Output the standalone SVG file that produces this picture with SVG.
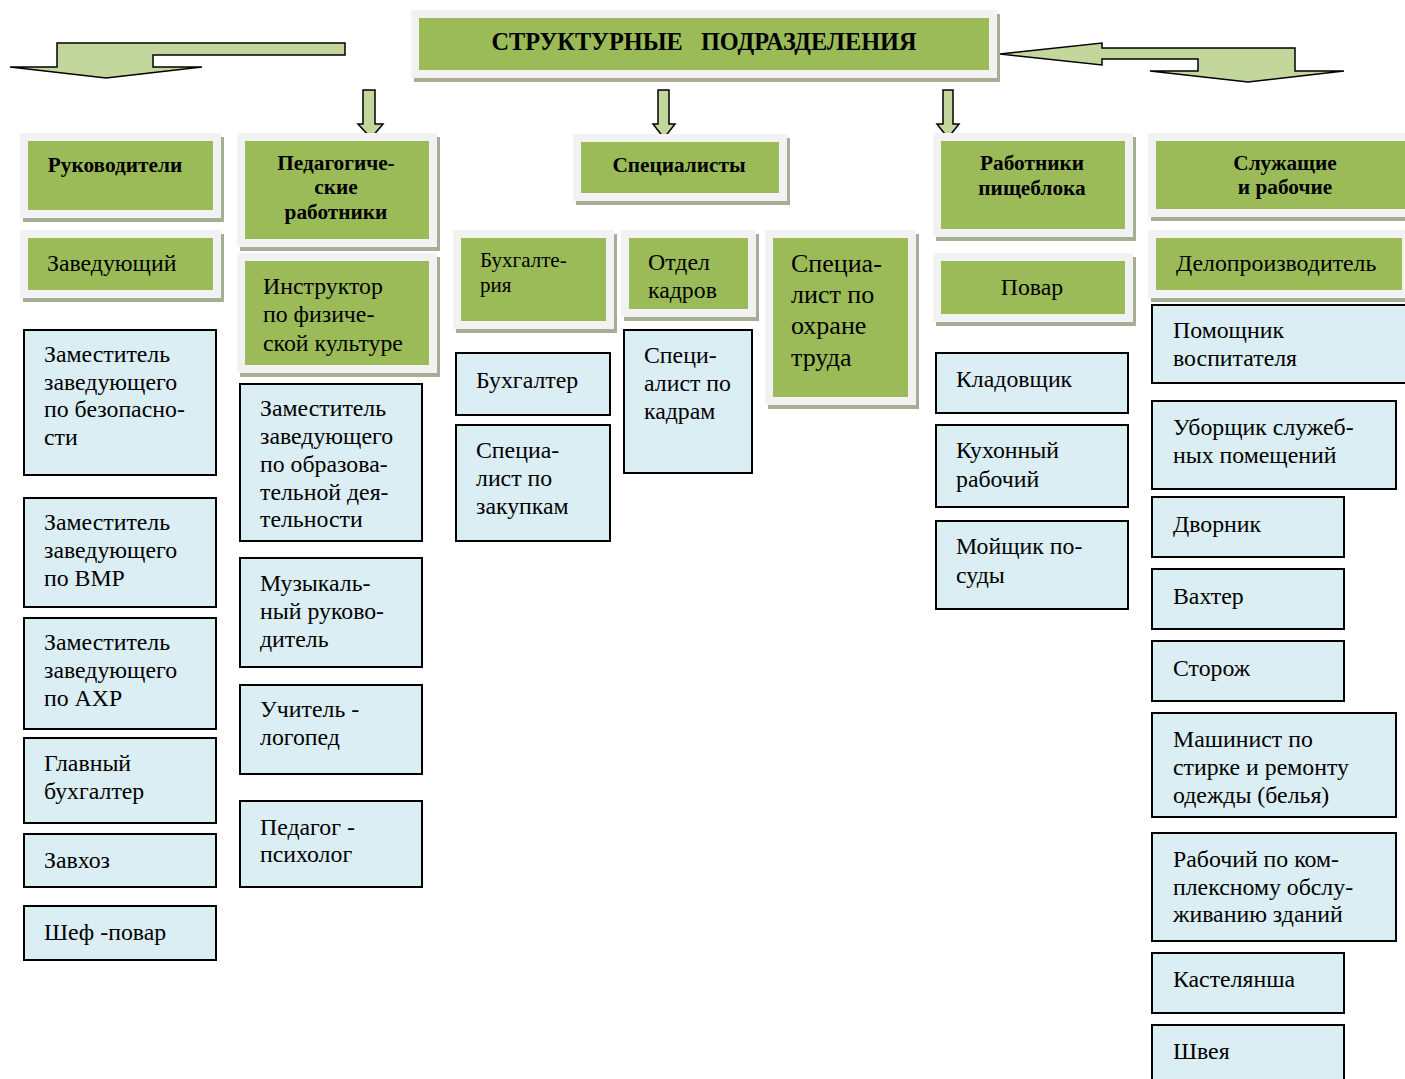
<svg xmlns="http://www.w3.org/2000/svg" width="1405" height="1079" viewBox="0 0 1405 1079">
<style>
.sh{fill:#a7ae95}
.fr{fill:#f2f2f2}
.gr{fill:#9bbb59}
.bl{fill:#daeef3;stroke:#000;stroke-width:2}
.arr{fill:#c3d69b;stroke:#000;stroke-width:1.5;stroke-linejoin:miter}
text{font-family:"Liberation Serif","Times New Roman",serif;fill:#000}
.t{font-size:23.8px}
.tb{font-size:21.3px;font-weight:bold;text-anchor:middle}
.tl{font-size:26px}
.ts{font-size:21px}
.title{font-size:24.3px;font-weight:bold;text-anchor:middle}
</style>
<rect width="1405" height="1079" fill="#fff"/>
<g id="connectors">
<polygon class="arr" points="57,43 345,43 345,55 153,55 153,67 202,67 106,78 10,67 57,67"/>
<polygon class="arr" points="1000,54 1102,43 1102,48 1295,48 1295,71 1344,71 1248,82 1150,71 1198,71 1198,59 1102,59 1102,65"/>
<polygon class="arr" points="363,90 375,90 375,124 383,124 371,138 358,124 363,124"/>
<polygon class="arr" points="658,90 669,90 669,124 675,124 664,138 653,124 658,124"/>
<polygon class="arr" points="943,90 953,90 953,124 959,124 948,138 937,124 943,124"/>
</g>
<g id="title">
<rect class="sh" x="414" y="14" width="586" height="68"/>
<rect class="fr" x="411" y="10" width="586" height="68"/>
<rect class="gr" x="419" y="18" width="570" height="52"/>
<text class="title" x="704" y="50" xml:space="preserve">СТРУКТУРНЫЕ   ПОДРАЗДЕЛЕНИЯ</text>
</g>
<g id="rukovoditeli">
<rect class="sh" x="23" y="137" width="201" height="85"/>
<rect class="fr" x="20" y="133" width="201" height="85"/>
<rect class="gr" x="28" y="141" width="185" height="69"/>
<text class="tb" x="115" y="172">Руководители</text>
</g>
<g id="zaveduyushchiy">
<rect class="sh" x="23" y="234" width="201" height="68"/>
<rect class="fr" x="20" y="230" width="201" height="68"/>
<rect class="gr" x="28" y="238" width="185" height="52"/>
<text class="t" x="47" y="271">Заведующий</text>
</g>
<g id="ped">
<rect class="sh" x="240" y="137" width="200" height="114"/>
<rect class="fr" x="237" y="133" width="200" height="114"/>
<rect class="gr" x="245" y="141" width="184" height="98"/>
<text class="tb" x="336" y="170">Педагогиче-</text>
<text class="tb" x="336" y="194">ские</text>
<text class="tb" x="336" y="219">работники</text>
</g>
<g id="instruktor">
<rect class="sh" x="240" y="257" width="200" height="120"/>
<rect class="fr" x="237" y="253" width="200" height="120"/>
<rect class="gr" x="245" y="261" width="184" height="104"/>
<text class="t" x="263" y="294">Инструктор</text>
<text class="t" x="263" y="322">по физиче-</text>
<text class="t" x="263" y="351">ской культуре</text>
</g>
<g id="spetsialisty">
<rect class="sh" x="576" y="138" width="214" height="67"/>
<rect class="fr" x="573" y="134" width="214" height="67"/>
<rect class="gr" x="581" y="142" width="198" height="51"/>
<text class="tb" x="679" y="172">Специалисты</text>
</g>
<g id="bukhgalteriya">
<rect class="sh" x="456" y="234" width="161" height="99"/>
<rect class="fr" x="453" y="230" width="161" height="99"/>
<rect class="gr" x="461" y="238" width="145" height="83"/>
<text class="ts" x="480" y="267">Бухгалте-</text>
<text class="ts" x="480" y="292">рия</text>
</g>
<g id="otdel-kadrov">
<rect class="sh" x="624" y="234" width="135" height="87"/>
<rect class="fr" x="621" y="230" width="135" height="87"/>
<rect class="gr" x="629" y="238" width="119" height="71"/>
<text class="t" x="648" y="270">Отдел</text>
<text class="t" x="648" y="298">кадров</text>
</g>
<g id="okhrana-truda">
<rect class="sh" x="768" y="234" width="151" height="175"/>
<rect class="fr" x="765" y="230" width="151" height="175"/>
<rect class="gr" x="773" y="238" width="135" height="159"/>
<text class="tl" x="791" y="272">Специа-</text>
<text class="tl" x="791" y="303">лист по</text>
<text class="tl" x="791" y="334">охране</text>
<text class="tl" x="791" y="366">труда</text>
</g>
<g id="pishcheblok">
<rect class="sh" x="936" y="137" width="200" height="104"/>
<rect class="fr" x="933" y="133" width="200" height="104"/>
<rect class="gr" x="941" y="141" width="184" height="88"/>
<text class="tb" x="1032" y="170">Работники</text>
<text class="tb" x="1032" y="195">пищеблока</text>
</g>
<g id="povar">
<rect class="sh" x="936" y="257" width="200" height="69"/>
<rect class="fr" x="933" y="253" width="200" height="69"/>
<rect class="gr" x="941" y="261" width="184" height="53"/>
<text class="t" x="1032" y="295" text-anchor="middle">Повар</text>
</g>
<g id="sluzhashchie">
<rect class="sh" x="1151" y="137" width="270" height="84"/>
<rect class="fr" x="1148" y="133" width="270" height="84"/>
<rect class="gr" x="1156" y="141" width="254" height="68"/>
<text class="tb" x="1285" y="170">Служащие</text>
<text class="tb" x="1285" y="194">и рабочие</text>
</g>
<g id="deloproizvoditel">
<rect class="sh" x="1151" y="234" width="262" height="68"/>
<rect class="fr" x="1148" y="230" width="262" height="68"/>
<rect class="gr" x="1156" y="238" width="246" height="52"/>
<text class="t" x="1176" y="271">Делопроизводитель</text>
</g>
<g id="zam-bezopasnost">
<rect class="bl" x="24" y="330" width="192" height="145"/>
<text class="t" x="44" y="362">Заместитель</text>
<text class="t" x="44" y="390">заведующего</text>
<text class="t" x="44" y="417">по безопасно-</text>
<text class="t" x="44" y="445">сти</text>
</g>
<g id="zam-vmr">
<rect class="bl" x="24" y="498" width="192" height="109"/>
<text class="t" x="44" y="530">Заместитель</text>
<text class="t" x="44" y="558">заведующего</text>
<text class="t" x="44" y="586">по ВМР</text>
</g>
<g id="zam-akhr">
<rect class="bl" x="24" y="618" width="192" height="111"/>
<text class="t" x="44" y="650">Заместитель</text>
<text class="t" x="44" y="678">заведующего</text>
<text class="t" x="44" y="706">по АХР</text>
</g>
<g id="glavbukh">
<rect class="bl" x="24" y="738" width="192" height="85"/>
<text class="t" x="44" y="771">Главный</text>
<text class="t" x="44" y="799">бухгалтер</text>
</g>
<g id="zavkhoz">
<rect class="bl" x="24" y="834" width="192" height="53"/>
<text class="t" x="44" y="868">Завхоз</text>
</g>
<g id="shef-povar">
<rect class="bl" x="24" y="906" width="192" height="54"/>
<text class="t" x="44" y="940">Шеф -повар</text>
</g>
<g id="zam-obrazovanie">
<rect class="bl" x="240" y="384" width="182" height="157"/>
<text class="t" x="260" y="416">Заместитель</text>
<text class="t" x="260" y="444">заведующего</text>
<text class="t" x="260" y="472">по образова-</text>
<text class="t" x="260" y="500">тельной дея-</text>
<text class="t" x="260" y="527">тельности</text>
</g>
<g id="muz-ruk">
<rect class="bl" x="240" y="558" width="182" height="109"/>
<text class="t" x="260" y="591">Музыкаль-</text>
<text class="t" x="260" y="619">ный руково-</text>
<text class="t" x="260" y="647">дитель</text>
</g>
<g id="logoped">
<rect class="bl" x="240" y="685" width="182" height="89"/>
<text class="t" x="260" y="717">Учитель -</text>
<text class="t" x="260" y="745">логопед</text>
</g>
<g id="psikholog">
<rect class="bl" x="240" y="801" width="182" height="86"/>
<text class="t" x="260" y="835">Педагог -</text>
<text class="t" x="260" y="862">психолог</text>
</g>
<g id="bukhgalter">
<rect class="bl" x="456" y="353" width="154" height="62"/>
<text class="t" x="476" y="388">Бухгалтер</text>
</g>
<g id="zakupki">
<rect class="bl" x="456" y="425" width="154" height="116"/>
<text class="t" x="476" y="458">Специа-</text>
<text class="t" x="476" y="486">лист по</text>
<text class="t" x="476" y="514">закупкам</text>
</g>
<g id="spets-kadry">
<rect class="bl" x="624" y="330" width="128" height="143"/>
<text class="t" x="644" y="363">Специ-</text>
<text class="t" x="644" y="391">алист по</text>
<text class="t" x="644" y="419">кадрам</text>
</g>
<g id="kladovshchik">
<rect class="bl" x="936" y="353" width="192" height="60"/>
<text class="t" x="956" y="387">Кладовщик</text>
</g>
<g id="kukhonny">
<rect class="bl" x="936" y="425" width="192" height="82"/>
<text class="t" x="956" y="458">Кухонный</text>
<text class="t" x="956" y="487">рабочий</text>
</g>
<g id="moyshchik">
<rect class="bl" x="936" y="521" width="192" height="88"/>
<text class="t" x="956" y="554">Мойщик по-</text>
<text class="t" x="956" y="583">суды</text>
</g>
<g id="pomoshchnik">
<rect class="bl" x="1152" y="305" width="262" height="78"/>
<text class="t" x="1173" y="338">Помощник</text>
<text class="t" x="1173" y="366">воспитателя</text>
</g>
<g id="uborshchik">
<rect class="bl" x="1152" y="401" width="244" height="88"/>
<text class="t" x="1173" y="435">Уборщик служеб-</text>
<text class="t" x="1173" y="463">ных помещений</text>
</g>
<g id="dvornik">
<rect class="bl" x="1152" y="497" width="192" height="60"/>
<text class="t" x="1173" y="532">Дворник</text>
</g>
<g id="vakhter">
<rect class="bl" x="1152" y="569" width="192" height="60"/>
<text class="t" x="1173" y="604">Вахтер</text>
</g>
<g id="storozh">
<rect class="bl" x="1152" y="641" width="192" height="60"/>
<text class="t" x="1173" y="676">Сторож</text>
</g>
<g id="mashinist">
<rect class="bl" x="1152" y="713" width="244" height="104"/>
<text class="t" x="1173" y="747">Машинист по</text>
<text class="t" x="1173" y="775">стирке и ремонту</text>
<text class="t" x="1173" y="803">одежды (белья)</text>
</g>
<g id="rabochiy-kompleks">
<rect class="bl" x="1152" y="833" width="244" height="108"/>
<text class="t" x="1173" y="867">Рабочий по ком-</text>
<text class="t" x="1173" y="895">плексному обслу-</text>
<text class="t" x="1173" y="922">живанию зданий</text>
</g>
<g id="kastelyansha">
<rect class="bl" x="1152" y="953" width="192" height="60"/>
<text class="t" x="1173" y="987">Кастелянша</text>
</g>
<g id="shveya">
<rect class="bl" x="1152" y="1025" width="192" height="70"/>
<text class="t" x="1173" y="1059">Швея</text>
</g>
</svg>
